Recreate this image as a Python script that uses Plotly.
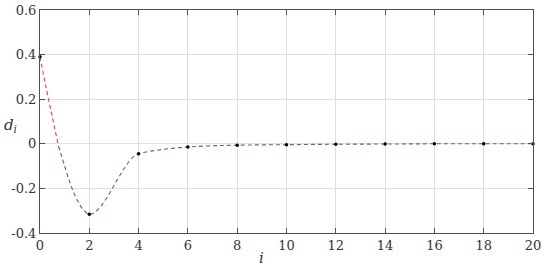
import plotly.graph_objects as go

# points shown as dots (even i)
i_pts = [0, 2, 4, 6, 8, 10, 12, 14, 16, 18, 20]
d_pts = [0.39, -0.316, -0.045, -0.014, -0.006, -0.004, -0.002, -0.001, 0.0, 0.0, 0.0]

# dashed curve
i_curve = [0, 0.25, 0.5, 0.75, 1.0, 1.25, 1.5, 1.75, 2.0, 2.25, 2.5, 2.75, 3.0, 3.25, 3.5, 3.75,
           4.0, 4.5, 5.0, 5.5, 6.0, 7.0, 8.0, 10.0, 12.0, 14.0, 16.0, 18.0, 20.0]
d_curve = [0.39, 0.25, 0.12, -0.01, -0.10, -0.185, -0.25, -0.295, -0.316, -0.305, -0.275, -0.235,
           -0.187, -0.14, -0.097, -0.062, -0.045, -0.033, -0.025, -0.019, -0.014, -0.009, -0.006,
           -0.004, -0.002, -0.001, 0.0, 0.0, 0.0]

xticks = [0, 2, 4, 6, 8, 10, 12, 14, 16, 18, 20]
yticks = [-0.4, -0.2, 0, 0.2, 0.4, 0.6]
ytext = ['-0.4', '-0.2', '0', '0.2', '0.4', '0.6']

serif = 'DejaVu Serif, serif'

# red near the start, darker brown for the rest of the curve
n0 = 3
fig = go.Figure()
fig.add_trace(go.Scatter(x=i_curve[:n0 + 1], y=d_curve[:n0 + 1], mode='lines',
                         line=dict(color='#e0404c', width=1.1, dash='4px,3px'),
                         line_shape='spline', hoverinfo='skip'))
fig.add_trace(go.Scatter(x=i_curve[n0:], y=d_curve[n0:], mode='lines',
                         line=dict(color='#8a5a50', width=1.1, dash='4px,3px'),
                         line_shape='spline', hoverinfo='skip'))
fig.add_trace(go.Scatter(x=i_pts, y=d_pts, mode='markers', marker=dict(color='black', size=3.5), cliponaxis=False))

axis = dict(showline=True, linecolor='#505050', linewidth=1, mirror='ticks', ticks='inside', ticklen=5,
            tickcolor='#505050', showgrid=True, gridcolor='#dedede', gridwidth=1, zeroline=False,
            automargin=False, tickfont=dict(family=serif, size=13, color='#333333'))

fig.update_layout(
    width=550, height=268, margin=dict(l=40, r=17, t=10, b=35),
    paper_bgcolor='white', plot_bgcolor='white', showlegend=False,
    font=dict(family=serif),
    xaxis=dict(axis, range=[0, 20], tickvals=xticks),
    yaxis=dict(axis, range=[-0.4, 0.6], tickvals=yticks, ticktext=ytext),
    annotations=[
        dict(x=9.0, y=0, xref='x', yref='paper', yanchor='middle', yshift=-25, text='<i>i</i>',
             showarrow=False, font=dict(family=serif, size=15, color='#333333')),
        dict(x=0, y=0.48, xref='paper', yref='paper', xanchor='center', xshift=-30, text='<i>d<sub>i</sub></i>',
             showarrow=False, font=dict(family=serif, size=15, color='#333333')),
    ],
)

# drop the default page margin so the figure fills the window
fig.write_html("out.html", config={'displayModeBar': False},
               post_script="document.body.style.margin='0';")
